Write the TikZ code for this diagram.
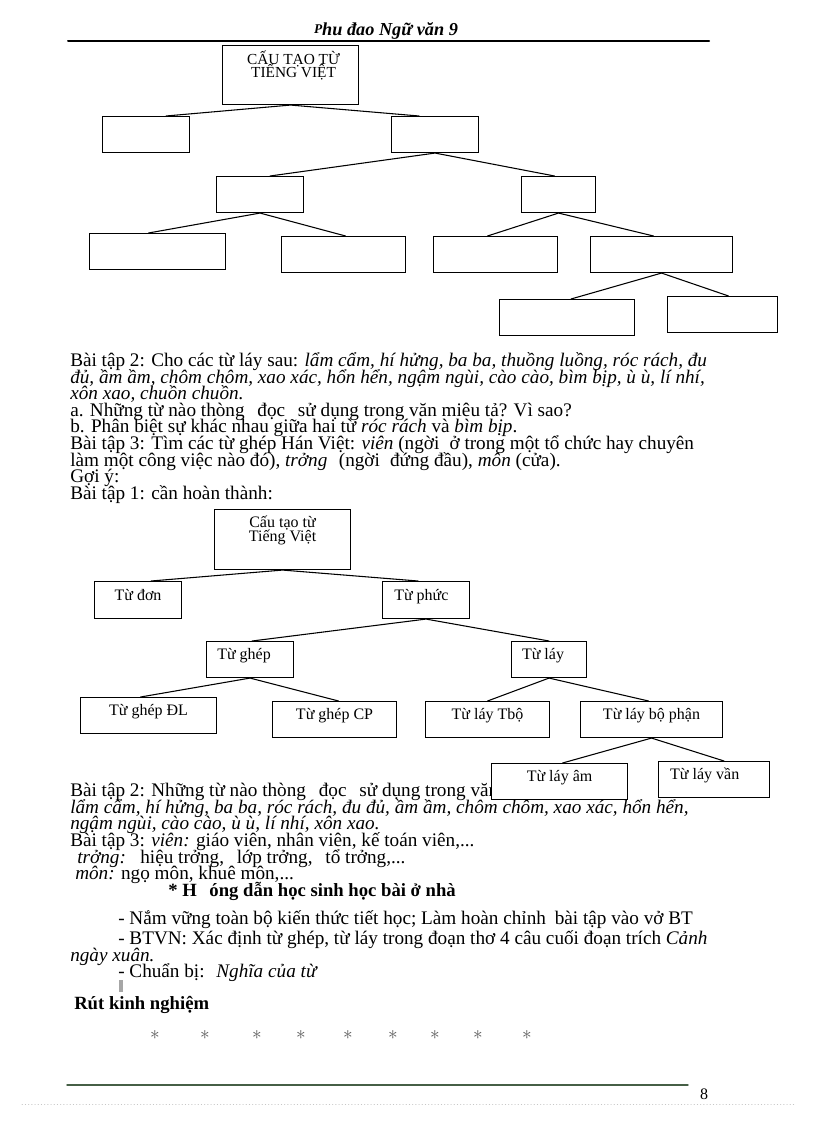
\documentclass[tikz,border=0pt]{standalone}
\usepackage{fontspec}
\setmainfont{Liberation Serif}
\usetikzlibrary{calc}

\begin{document}
\begin{tikzpicture}[x=0.75pt,y=-0.75pt,line cap=round,
  bx/.style n args={2}{draw,fill=white,line width=0.8pt,inner sep=0pt,anchor=north west,
    minimum width=#1*0.75pt,minimum height=#2*0.75pt,font=\fontsize{12}{12}\selectfont,
    text height=13.5pt,text depth=13.5pt},
  ln/.style={line width=0.8pt},
  txt/.style={anchor=base west,inner sep=0pt,text height=9.5pt,text depth=2.5pt,font=\fontsize{14.4}{14.4}\selectfont},
  bold/.style={txt,font=\bfseries\fontsize{14}{14}\selectfont},
  star/.style={inner sep=0pt,text=gray!70!black,font=\fontsize{14}{14}\selectfont}]
\fill[white] (0,0) rectangle (816,1123);
\useasboundingbox (0,0) rectangle (816,1123);

% header
\node (hdr) [anchor=base,inner sep=0pt,font=\bfseries\itshape\fontsize{13.7}{14}\selectfont] at (386,36)
  {\raisebox{1.5pt}{\fontsize{10}{10}\selectfont P}hu đao Ngữ văn 9};
\draw[line width=1.5pt] (68,41) -- (709,41);

% first tree (empty)
\node (r1) [bx={136}{59}] at (222,45) {};
\node (r1a) [anchor=base,inner sep=0pt,font=\fontsize{11.5}{11}\selectfont] at ($(r1.north)+(3,20)$) {CẤU TẠO TỪ};
\node (r1b) [anchor=base,inner sep=0pt,font=\fontsize{11.5}{11}\selectfont] at ($(r1a.base)+(0,13)$) {TIẾNG VIỆT};
\node (don1) [bx={87}{36}] at (102,116) {};
\node (phuc1) [bx={87}{36}] at (391,116) {};
\node (ghep1) [bx={87}{36}] at (216,176) {};
\node (lay1) [bx={74}{36}] at (521,176) {};
\node (ghepdl1) [bx={136}{36}] at (89,233) {};
\node (ghepcp1) [bx={124}{36}] at (281,236) {};
\node (laytb1) [bx={124}{36}] at (433,236) {};
\node (laybp1) [bx={142}{36}] at (590,236) {};
\node (layam1) [bx={135}{36}] at (499,299) {};
\node (layvan1) [bx={110}{36}] at (667,296) {};
\draw[ln] (r1.south) -- ($(don1.north)+(20,0)$) (r1.south) -- ($(phuc1.north)+(-16,0)$);
\draw[ln] (phuc1.south) -- ($(ghep1.north)+(10,0)$) (phuc1.south) -- ($(lay1.north)+(-4,0)$);
\draw[ln] (ghep1.south) -- ($(ghepdl1.north)+(-9,0)$) (ghep1.south) -- ($(ghepcp1.north)+(2,0)$);
\draw[ln] (lay1.south) -- ($(laytb1.north)+(-8,0)$) (lay1.south) -- ($(laybp1.north)+(-8,0)$);
\draw[ln] (laybp1.south) -- ($(layam1.north)+(4,0)$) (laybp1.south) -- ($(layvan1.north)+(6,0)$);

% text block 1
\node (a1) [txt] at (70,366) {Bài tập 2: Cho các từ láy sau: \textit{lẩm cẩm, hí hửng, ba ba, thuồng luồng, róc rách, đu}};
\node (a2) [txt] at (70,383) {\textit{đủ, ầm ầm, chôm chôm, xao xác, hổn hển, ngậm ngùi, cào cào, bìm bịp, ù ù, lí nhí,}};
\node (a3) [txt] at (70,399) {\textit{xôn xao, chuồn chuồn.}};
\node (a4) [txt] at (70,416) {a. Những từ nào thòng\hspace{6pt} đọc\hspace{6pt} sử dụng trong văn miêu tả? Vì sao?};
\node (a5) [txt] at (70,432) {b. Phân biệt sự khác nhau giữa hai từ \textit{róc rách} và \textit{bìm bịp}.};
\node (a6) [txt] at (70,449) {Bài tập 3: Tìm các từ ghép Hán Việt: \textit{viên} (ngời\hspace{4pt} ở trong một tổ chức hay chuyên};
\node (a7) [txt] at (70,466) {làm một công việc nào đó), \textit{trởng}\hspace{5pt} (ngời\hspace{4pt} đứng đầu), \textit{môn} (cửa).};
\node (a8) [txt] at (70,482) {Gợi ý:};
\node (a9) [txt] at (70,499) {Bài tập 1: cần hoàn thành:};

% text block 2 (partly under the boxes)
\node (b1) [txt] at (70,796) {Bài tập 2: Những từ nào thòng\hspace{6pt} đọc\hspace{6pt} sử dụng trong văn};
\node (b2) [txt] at (70,813) {\textit{lẩm cẩm, hí hửng, ba ba, róc rách, đu đủ, ầm ầm, chôm chôm, xao xác, hổn hển,}};
\node (b3) [txt] at (70,829) {\textit{ngậm ngùi, cào cào, ù ù, lí nhí, xôn xao.}};
\node (b4) [txt] at (70,846) {Bài tập 3: \textit{viên:} giáo viên, nhân viên, kế toán viên,...};
\node (b5) [txt] at (77,863) {\textit{trởng:}\hspace{6pt} hiệu trởng,\hspace{6pt} lớp trởng,\hspace{6pt} tổ trởng,...};
\node (b6) [txt] at (75,879) {\textit{môn:} ngọ môn, khuê môn,...};
\node (b7) [bold] at (168,896) {* H\hspace{6pt} óng dẫn học sinh học bài ở nhà};

% second tree
\node (r2) [bx={136}{60}] at (214,509) {};
\node (r2a) [anchor=base,inner sep=0pt,font=\fontsize{12}{12}\selectfont] at ($(r2.north)+(0,18)$) {Cấu tạo từ};
\node (r2b) [anchor=base,inner sep=0pt,font=\fontsize{12}{12}\selectfont] at ($(r2a.base)+(0,14)$) {Tiếng Việt};
\node (don2) [bx={87}{37}] at (94,581) {Từ đơn};
\node (phuc2) [bx={87}{37}] at (382,581) {Từ phức\hspace*{7pt}};
\node (ghep2) [bx={87}{36}] at (206,641) {Từ ghép\hspace*{9pt}};
\node (lay2) [bx={75}{36}] at (511,641) {Từ láy\hspace*{9pt}};
\node (ghepdl2) [bx={136}{36}] at (80,697) {Từ ghép ĐL};
\node (ghepcp2) [bx={124}{36}] at (272,701) {Từ ghép CP};
\node (laytb2) [bx={124}{36}] at (425,701) {Từ láy Tbộ};
\node (laybp2) [bx={142}{36}] at (580,701) {Từ láy bộ phận};
\node (layam2) [bx={136}{36}] at (491,763) {Từ láy âm};
\node (layvan2) [bx={111}{36}] at (658,761) {Từ láy vần\hspace*{14pt}};
\draw[ln] (r2.south) -- ($(don2.north)+(13,0)$) (r2.south) -- ($(phuc2.north)+(-8,0)$);
\draw[ln] (phuc2.south) -- ($(ghep2.north)+(2,0)$) (phuc2.south) -- (lay2.north);
\draw[ln] (ghep2.south) -- ($(ghepdl2.north)+(-8,0)$) (ghep2.south) -- ($(ghepcp2.north)+(4,0)$);
\draw[ln] (lay2.south) -- (laytb2.north) (lay2.south) -- ($(laybp2.north)+(-3,0)$);
\draw[ln] (laybp2.south) -- ($(layam2.north)+(3,0)$) (laybp2.south) -- ($(layvan2.north)+(10,0)$);

% homework
\node (c1) [txt] at (118,924) {- Nắm vững toàn bộ kiến thức tiết học; Làm hoàn chỉnh\hspace{3pt} bài tập vào vở BT};
\node (c2) [txt] at (118,944) {- BTVN: Xác định từ ghép, từ láy trong đoạn thơ 4 câu cuối đoạn trích \textit{Cảnh}};
\node (c3) [txt] at (70,961) {\textit{ngày xuân.}};
\node (c4) [txt] at (118,977) {- Chuẩn bị:\hspace{4pt} \textit{Nghĩa của từ}};
\fill[gray!70] (119,980) rectangle (123,992);
\node (c5) [bold] at (74,1009) {Rút kinh nghiệm};

% stars and footer
\foreach \x [count=\i] in {155,205,257,301,348,393,435,478,527}
  \node (st\i) [star] at (\x,1035) {$\ast$};
\draw[line width=1.1pt,color={rgb,255:red,70;green,95;blue,70}] (67,1085) -- (688,1085);
\node (pg) [inner sep=0pt,font=\fontsize{12}{12}\selectfont] at (704,1094) {8};
\draw[gray!45,dotted] (22,1104) -- (795,1104);
\end{tikzpicture}
\end{document}
